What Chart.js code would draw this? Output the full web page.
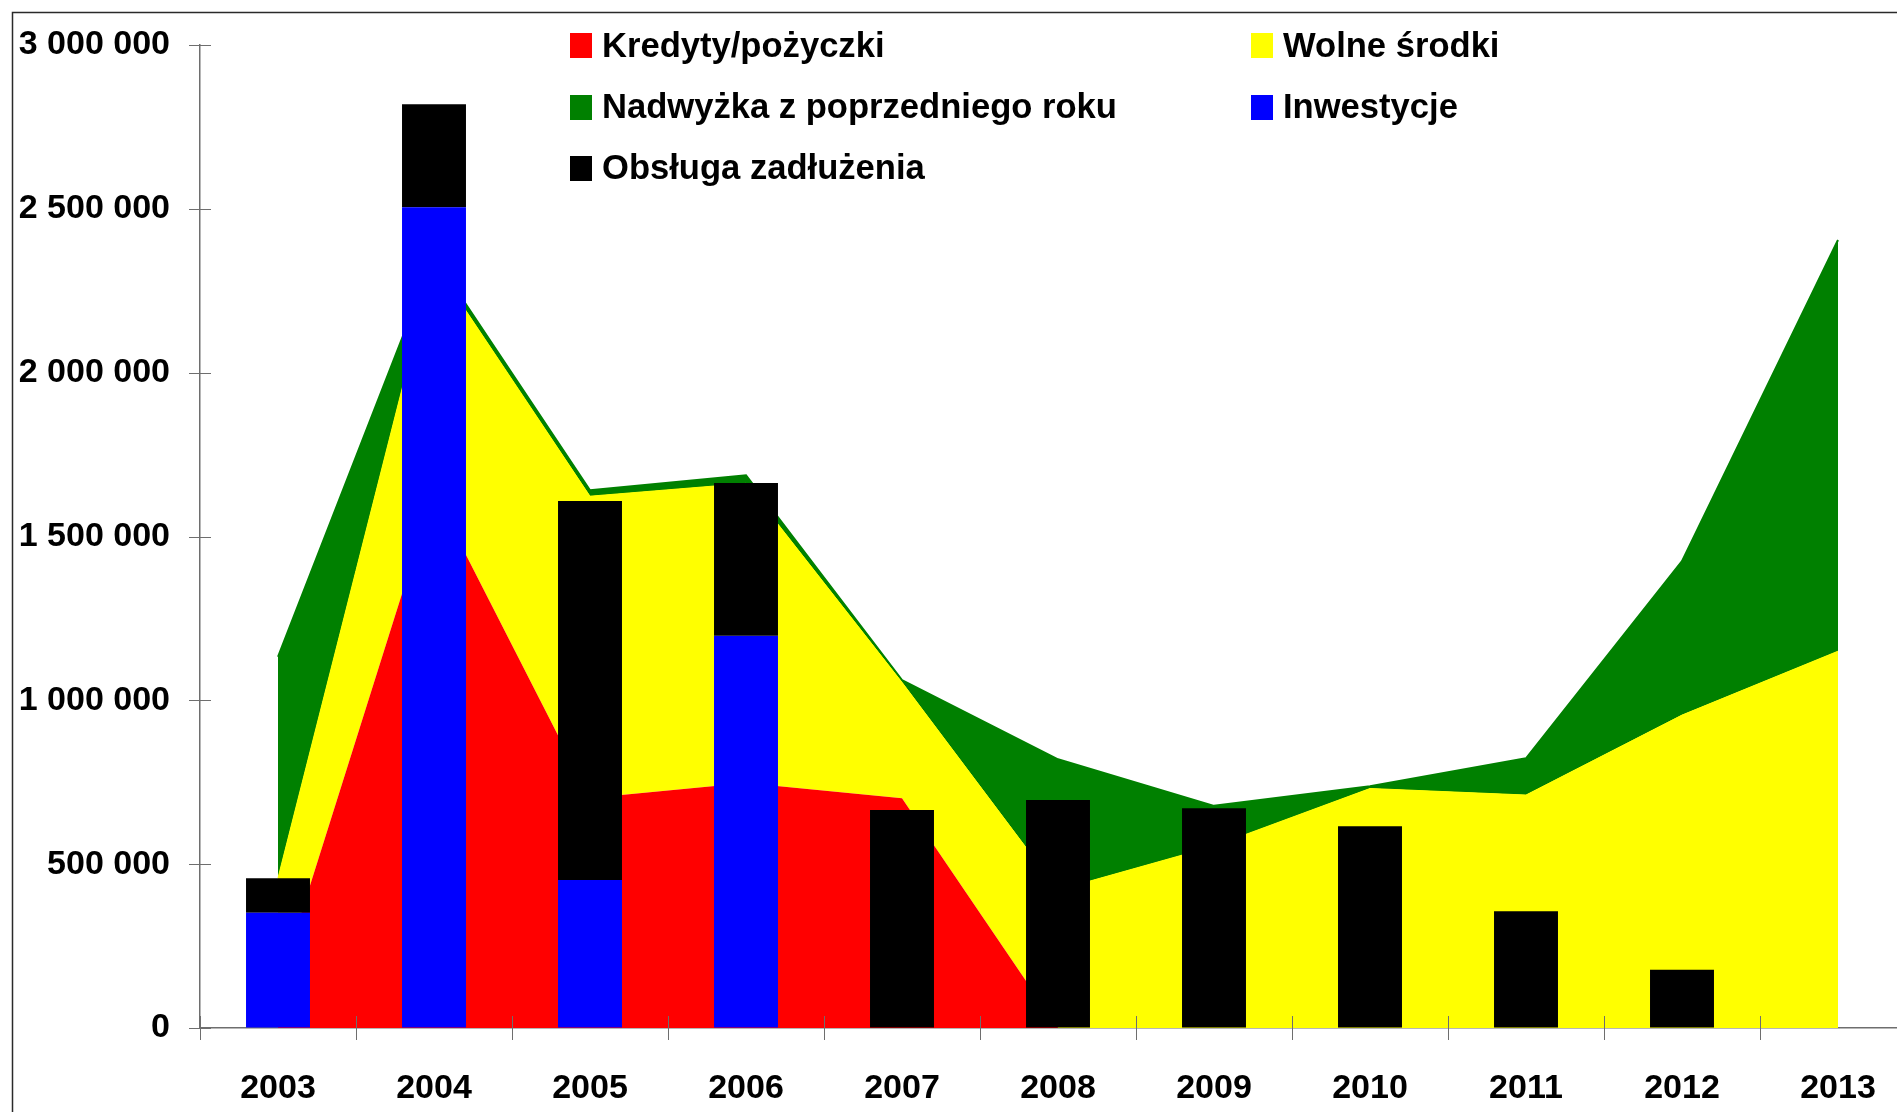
<!DOCTYPE html>
<html lang="pl">
<head>
<meta charset="utf-8">
<title>Kredyty, wolne środki, nadwyżka, inwestycje i obsługa zadłużenia 2003–2013</title>
<script src="https://cdn.jsdelivr.net/npm/chart.js@4.4.1/dist/chart.umd.min.js"></script>
<style>
  html, body { margin: 0; padding: 0; background: #fff; overflow: hidden; }
  #wrap { position: absolute; left: 0; top: 0; width: 1930px; height: 1112px; }
  .legend-box { position: absolute; width: 22px; height: 25px; }
  .legend-text {
    position: absolute;
    font: bold 34.6px 'Liberation Sans', Arial, sans-serif;
    line-height: 1;
    color: #000;
    white-space: nowrap;
  }
</style>
</head>
<body>
<div id="wrap"><canvas id="chart"></canvas></div>
<div id="legend"></div>
<script>
// ── Data (PLN) ────────────────────────────────────────────────
const YEARS        = ['2003', '2004', '2005', '2006', '2007', '2008', '2009', '2010', '2011', '2012', '2013'];
const KREDYTY      = [125000, 1635000, 702000, 748000, 701000, 0, 0, 0, 0, 0, 0];
const WOLNE_SRODKI = [333000, 700000, 921000, 914000, 354000, 421000, 555000, 731000, 711000, 955000, 1150000];
const NADWYZKA     = [675000, 20000, 18000, 25000, 7000, 399000, 123000, 7000, 112000, 470000, 1255000];
const INWESTYCJE   = [352000, 2505000, 452000, 1197000, 0, 0, 0, 0, 0, 0, 0];
const OBSLUGA      = [105000, 314000, 1156000, 466000, 665000, 696000, 671000, 616000, 356000, 178000, 0];
const Y_TICKS      = [0, 500000, 1000000, 1500000, 2000000, 2500000, 3000000];

const COLORS = {
  red:    '#FF0000',
  yellow: '#FFFF00',
  green:  '#008000',
  blue:   '#0000FF',
  black:  '#000000',
  axis:   '#6E6E6E',
};
const FONT = "'Liberation Sans', Arial, sans-serif";

// "3000000" -> "3 000 000"
const fmt = (v) => String(v).replace(/\B(?=(\d{3})+(?!\d))/g, ' ');

// ── Frame + crossing tick marks ───────────────────────────────
const decor = {
  id: 'decor',
  beforeDraw(chart) {
    const { ctx, width, height } = chart;
    ctx.save();
    ctx.strokeStyle = '#2a2a2a';
    ctx.lineWidth = 1.5;
    ctx.beginPath();
    ctx.moveTo(12.5, height);
    ctx.lineTo(12.5, 12.5);
    ctx.lineTo(width, 12.5);
    ctx.stroke();
    ctx.restore();
  },
  afterDraw(chart) {
    const { ctx, scales: { x, y } } = chart;
    const step = x.getPixelForValue(1) - x.getPixelForValue(0);
    ctx.save();
    ctx.strokeStyle = COLORS.axis;
    ctx.lineWidth = 1;
    ctx.beginPath();
    y.ticks.forEach((t) => {
      const py = Math.round(y.getPixelForValue(t.value)) + 0.5;
      ctx.moveTo(x.left - 11, py);
      ctx.lineTo(x.left + 11, py);
    });
    for (let i = 0; i <= YEARS.length; i++) {
      const px = Math.round(x.getPixelForValue(0) + (i - 0.5) * step) + 0.5;
      ctx.moveTo(px, y.bottom - 12);
      ctx.lineTo(px, y.bottom + 12);
    }
    ctx.stroke();
    ctx.restore();
  },
};

const area = (label, data, color, fill, extra = {}) => ({
  type: 'line',
  label,
  data,
  stack: 'areas',
  order: 2,
  fill,
  backgroundColor: color,
  borderColor: color,
  borderWidth: 1,
  pointRadius: 0,
  tension: 0,
  ...extra,
});

const bar = (label, data, color) => ({
  type: 'bar',
  label,
  data,
  stack: 'bars',
  order: 1,
  backgroundColor: color,
  borderWidth: 0,
  barPercentage: 0.41,
  categoryPercentage: 1.0,
});

const chart = new Chart(document.getElementById('chart'), {
  type: 'bar',
  data: {
    labels: YEARS,
    datasets: [
      area('Kredyty/pożyczki', KREDYTY, COLORS.red, 'origin', { borderColor: 'rgba(0,0,0,0)' }),
      area('Wolne środki', WOLNE_SRODKI, COLORS.yellow, 0),
      area('Nadwyżka z poprzedniego roku', NADWYZKA, COLORS.green, 1, { borderWidth: 2 }),
      bar('Inwestycje', INWESTYCJE, COLORS.blue),
      bar('Obsługa zadłużenia', OBSLUGA, COLORS.black),
    ],
  },
  options: {
    responsive: true,
    maintainAspectRatio: false,
    animation: false,
    layout: { padding: { left: 0, top: 45, right: 14, bottom: 0 } },
    plugins: {
      legend:  { display: false },
      tooltip: { enabled: false },
    },
    scales: {
      x: {
        stacked: true,
        z: 1,
        grid:   { drawOnChartArea: false, drawTicks: false },
        border: { display: true, color: COLORS.axis, width: 1.5 },
        ticks:  { color: '#000', padding: 40, maxRotation: 0, font: { family: FONT, size: 34, weight: 'bold' } },
        afterFit: (s) => { s.height = 84; },
      },
      y: {
        stacked: true,
        z: 1,
        min: 0,
        max: 3000000,
        afterBuildTicks: (s) => { s.ticks = Y_TICKS.map((v) => ({ value: v })); },
        grid:   { drawOnChartArea: false, drawTicks: false },
        border: { display: true, color: COLORS.axis, width: 1.5 },
        ticks:  { color: '#000', padding: 30, callback: (v) => fmt(v), font: { family: FONT, size: 34, weight: 'bold' } },
        afterFit: (s) => {
          s.width = 200;
          // the top label may overhang the plot; keep the plot top at layout.padding.top
          s.paddingTop = 0;
          s.paddingBottom = 0;
        },
      },
    },
  },
  plugins: [decor],
});

// ── Legend (two columns, as in the original) ──────────────────
const LEGEND_COLS = [570, 1251];
const legendEl = document.getElementById('legend');
chart.data.datasets.forEach((ds, i) => {
  const col = i % 2;
  const row = Math.floor(i / 2);
  const box = document.createElement('span');
  box.className = 'legend-box';
  box.style.background = ds.backgroundColor;
  box.style.left = LEGEND_COLS[col] + 'px';
  box.style.top = (33 + row * 61.5) + 'px';
  const txt = document.createElement('span');
  txt.className = 'legend-text';
  txt.textContent = ds.label;
  txt.style.left = (LEGEND_COLS[col] + 32) + 'px';
  txt.style.top = (27.5 + row * 61.3) + 'px';
  legendEl.appendChild(box);
  legendEl.appendChild(txt);
});
</script>
</body>
</html>
